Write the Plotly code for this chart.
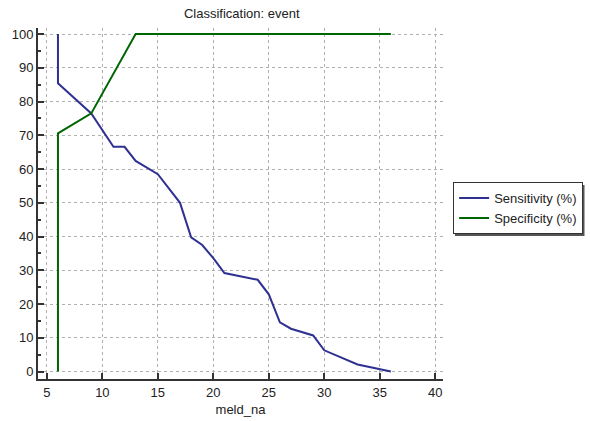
import plotly.graph_objects as go

sens_x = [6, 6, 9, 11, 12, 13, 15, 17, 18, 19, 20, 21, 24, 25, 26, 27, 29, 30, 33, 36]
sens_y = [100, 85.4, 76.5, 66.6, 66.6, 62.4, 58.5, 50.0, 39.8, 37.5, 33.6, 29.2, 27.2, 22.9, 14.6, 12.7, 10.7, 6.3, 2.1, 0]

spec_x = [6, 6, 9, 11, 12, 13, 36]
spec_y = [0, 70.6, 76.5, 88.2, 94.1, 100, 100]

title = "Classification: event"
x_title = "meld_na"

fig = go.Figure()
fig.add_trace(go.Scatter(x=sens_x, y=sens_y, mode="lines", name="Sensitivity (%)",
                         line=dict(color="#2e3192", width=2)))
fig.add_trace(go.Scatter(x=spec_x, y=spec_y, mode="lines", name="Specificity (%)",
                         line=dict(color="#006600", width=2)))

font = "Liberation Sans, Arial, sans-serif"
L, R, T, B, W, H = 38, 147, 28, 42, 590, 421
pw, ph = W - L - R, H - T - B


def px_x(p):
    return (p - L) / pw


def px_y(p):
    return (H - B - p) / ph


fig.update_layout(
    width=W, height=H,
    margin=dict(l=L, r=R, t=T, b=B, autoexpand=False),
    paper_bgcolor="white", plot_bgcolor="white",
    font=dict(family=font, size=13, color="#222"),
    title=dict(text=title, x=0.4097, xanchor="center", y=0.969, yanchor="middle",
               font=dict(size=13, color="#222")),
    showlegend=True,
    legend=dict(x=1.025, xanchor="left", y=0.561, yanchor="top",
                bordercolor="#333", borderwidth=1, bgcolor="white",
                font=dict(size=13, color="#222"), tracegroupgap=0,
                itemwidth=30),
    shapes=[dict(type="rect", xref="paper", yref="paper",
                 x0=px_x(455), x1=px_x(584.5), y0=px_y(236), y1=px_y(185),
                 fillcolor="#555", line=dict(width=0), layer="above")],
)
fig.update_xaxes(range=[4.2, 40.7], dtick=5, tick0=5, automargin=False,
                 showline=True, linewidth=2, linecolor="#333",
                 ticks="inside", ticklen=6, tickwidth=2, tickcolor="#333",
                 showgrid=True, gridcolor="#b0b0b0", griddash="dot", gridwidth=1,
                 zeroline=False, title=dict(text=x_title, standoff=6, font=dict(size=13, color="#222")),
                 tickfont=dict(size=13, color="#222"))
fig.update_yaxes(range=[-2.2, 101.8], dtick=10, tick0=0, automargin=False,
                 showline=True, linewidth=2, linecolor="#333",
                 ticks="inside", ticklen=6, tickwidth=2, tickcolor="#333",
                 minor=dict(dtick=5, ticks="inside", ticklen=3, tickcolor="#333", showgrid=False),
                 showgrid=True, gridcolor="#b0b0b0", griddash="dot", gridwidth=1,
                 zeroline=False, tickfont=dict(size=13, color="#222"))

fig.write_html("out.html")
